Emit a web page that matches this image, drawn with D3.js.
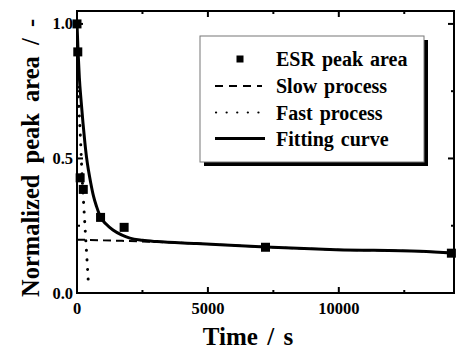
<!DOCTYPE html>
<html>
<head>
<meta charset="utf-8">
<script src="https://cdn.jsdelivr.net/npm/d3@7"></script>
<style>
  html, body { margin: 0; padding: 0; background: #fff; }
  svg { display: block; }
</style>
</head>
<body>
<svg id="chart" width="457" height="350"></svg>
<script>
// ---- data ----
const esrTime = [0, 30, 120, 240, 900, 1800, 7200, 14300];
const esrArea = [1.0, 0.896, 0.428, 0.385, 0.281, 0.244, 0.170, 0.148];

const fitTime  = [0, 40, 90, 160, 230, 300, 363, 440, 523, 630, 752, 905, 1100, 1374, 1700, 2020, 2500, 3050, 4570, 7200, 9900, 13100, 14400];
const fitValue = [1.0, 0.90, 0.80, 0.71, 0.63, 0.56, 0.505, 0.455, 0.41, 0.36, 0.32, 0.281, 0.257, 0.234, 0.216, 0.204, 0.196, 0.191, 0.184, 0.171, 0.161, 0.155, 0.148];

const slowTime  = [0, 1000, 2000, 3000, 4570, 7200, 9900, 13100, 14400];
const slowValue = [0.198, 0.196, 0.193, 0.190, 0.184, 0.171, 0.161, 0.155, 0.148];

const fastTime  = [0, 40, 76, 134, 191, 267, 324, 382, 439];
const fastValue = [0.80, 0.74, 0.68, 0.57, 0.44, 0.31, 0.216, 0.123, 0.03];

const xMajorTicks = [0, 5000, 10000];
const xMinorTicks = [2500, 7500, 12500];
const yMajorTicks = [0.0, 0.5, 1.0];
const yMinorTicks = [0.25, 0.75];

const legendLabels = ["ESR peak area", "Slow process", "Fast process", "Fitting curve"];

// ---- layout ----
const FONT = "'Liberation Serif', 'Times New Roman', serif";
const svg = d3.select("#chart");
const L = 77, R = 454, T = 11, B = 293;
const x = d3.scaleLinear().domain([0, 14400]).range([L, R]);
const y = d3.scaleLinear().domain([0, 1.048]).range([B, T]);

const g = svg.append("g");

svg.append("clipPath").attr("id", "plotclip")
  .append("rect").attr("x", L).attr("y", T).attr("width", R - L).attr("height", B - T);

const plot = g.append("g").attr("clip-path", "url(#plotclip)");

const zip = (a, b) => a.map((v, i) => [v, b[i]]);
const line = d3.line().x(d => x(d[0])).y(d => y(d[1])).curve(d3.curveMonotoneX);

// slow process (dashed)
plot.append("path").datum(zip(slowTime, slowValue))
  .attr("d", line).attr("fill", "none").attr("stroke", "#000")
  .attr("stroke-width", 2).attr("stroke-dasharray", "8,5");

// fast process (dotted)
plot.append("path").datum(zip(fastTime, fastValue))
  .attr("d", line).attr("fill", "none").attr("stroke", "#000")
  .attr("stroke-width", 3).attr("stroke-linecap", "round").attr("stroke-dasharray", "0.1,9.5");

// fitting curve
plot.append("path").datum(zip(fitTime, fitValue))
  .attr("d", line).attr("fill", "none").attr("stroke", "#000")
  .attr("stroke-width", 3);

// data squares
const sq = 9;
g.append("g").selectAll("rect").data(zip(esrTime, esrArea)).join("rect")
  .attr("x", d => x(d[0]) - sq / 2).attr("y", d => y(d[1]) - sq / 2)
  .attr("width", sq).attr("height", sq).attr("fill", "#000");

// ---- axes (ticks inward, mirrored) ----
const axG = g.append("g");
function ticks(axis, vals, len) {
  vals.forEach(v => {
    if (axis === "x") {
      axG.append("line").attr("x1", x(v)).attr("x2", x(v)).attr("y1", B).attr("y2", B - len).attr("stroke", "#000").attr("stroke-width", 2);
      axG.append("line").attr("x1", x(v)).attr("x2", x(v)).attr("y1", T).attr("y2", T + len).attr("stroke", "#000").attr("stroke-width", 2);
    } else {
      axG.append("line").attr("y1", y(v)).attr("y2", y(v)).attr("x1", L).attr("x2", L + len).attr("stroke", "#000").attr("stroke-width", 2);
      axG.append("line").attr("y1", y(v)).attr("y2", y(v)).attr("x1", R).attr("x2", R - len).attr("stroke", "#000").attr("stroke-width", 2);
    }
  });
}
ticks("x", xMajorTicks, 6);
ticks("x", xMinorTicks, 3);
ticks("y", yMajorTicks, 6);
ticks("y", yMinorTicks, 3);

axG.append("rect").attr("x", L).attr("y", T).attr("width", R - L).attr("height", B - T)
  .attr("fill", "none").attr("stroke", "#000").attr("stroke-width", 2);

// tick labels
const xFmt = d3.format("d");
axG.selectAll("text.xl").data(xMajorTicks).join("text")
  .attr("font-family", FONT).attr("font-weight", "bold")
  .attr("x", d => x(d)).attr("y", 314).attr("text-anchor", "middle")
  .attr("font-size", 16.5).text(d => xFmt(d));
const yFmt = d3.format(".1f");
axG.selectAll("text.yl").data(yMajorTicks).join("text")
  .attr("font-family", FONT).attr("font-weight", "bold")
  .attr("x", 73).attr("y", d => y(d) + 5.5).attr("text-anchor", "end")
  .attr("font-size", 16.5).text(d => yFmt(d));

// axis titles
g.append("text").attr("font-family", FONT).attr("font-weight", "bold")
  .attr("x", 248).attr("y", 345).attr("text-anchor", "middle")
  .attr("font-size", 25).style("word-spacing", "3px").text("Time / s");
g.append("text").attr("font-family", FONT).attr("font-weight", "bold")
  .attr("transform", "translate(39,158) rotate(-90)")
  .attr("text-anchor", "middle").attr("font-size", 24.5).style("word-spacing", "5px")
  .text("Normalized peak area / -");

// ---- legend ----
const lg = g.append("g");
const bx = 200, by = 36, bw = 224, bh = 126;
lg.append("rect").attr("x", bx + 4).attr("y", by + 4).attr("width", bw).attr("height", bh).attr("fill", "#000");
lg.append("rect").attr("x", bx).attr("y", by).attr("width", bw).attr("height", bh)
  .attr("fill", "#fff").attr("stroke", "#777").attr("stroke-width", 1);
const rowY = [59, 86, 112.5, 138.5];
legendLabels.forEach((lab, i) => {
  const ry = rowY[i];
  if (i === 0) {
    lg.append("rect").attr("x", 240 - 3.5).attr("y", ry - 3.5).attr("width", 7).attr("height", 7).attr("fill", "#000");
  } else if (i === 1) {
    lg.append("line").attr("x1", 215).attr("x2", 262).attr("y1", ry).attr("y2", ry)
      .attr("stroke", "#000").attr("stroke-width", 2).attr("stroke-dasharray", "8,6");
  } else if (i === 2) {
    lg.append("line").attr("x1", 216).attr("x2", 262).attr("y1", ry).attr("y2", ry)
      .attr("stroke", "#000").attr("stroke-width", 2.2).attr("stroke-linecap", "round").attr("stroke-dasharray", "0.1,10.5");
  } else {
    lg.append("line").attr("x1", 215).attr("x2", 265).attr("y1", ry).attr("y2", ry)
      .attr("stroke", "#000").attr("stroke-width", 3);
  }
  lg.append("text").attr("font-family", FONT).attr("font-weight", "bold")
    .attr("x", 276).attr("y", ry + 7).attr("font-size", 20).style("word-spacing", "2px").text(lab);
});
</script>
</body>
</html>
